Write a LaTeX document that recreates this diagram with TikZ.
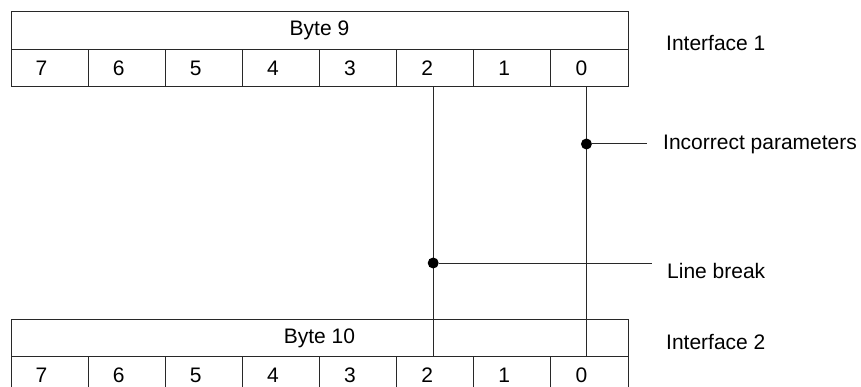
\documentclass[tikz,border=0pt]{standalone}
\usepackage{fontspec}
\setmainfont{Liberation Sans}
\usetikzlibrary{positioning}
\definecolor{WireGray}{RGB}{40,40,40}
\tikzset{
  bytebox/.style={draw=WireGray,line width=1pt,minimum width=617pt,
    minimum height=37.5pt,inner sep=0pt,outer sep=0pt},
  bitnum/.style={xshift=-8pt,inner sep=0pt},
  bitcell/.style={draw=WireGray,line width=1pt,minimum width=77.125pt,
    minimum height=37.5pt,inner sep=0pt,outer sep=0pt,
    label={[bitnum]center:#1}},
  note/.style={anchor=west,inner sep=0pt},
  tap/.style={circle,fill=black,minimum size=11pt,inner sep=0pt},
  wire/.style={draw=WireGray,line width=1pt}
}

\begin{document}
\begin{tikzpicture}[x=1pt,y=-1pt,node distance=0pt,
    every node/.append style={font=\fontsize{21}{25}\selectfont}]
  \useasboundingbox (0,0) rectangle (861,387);
  \clip (0,0) rectangle (861,387);
  % Interface 1
  \node[bytebox] (byte9) at (319.5,30.75) {Byte 9};
  \node[bitcell=7,anchor=north west] (t7) at (byte9.south west) {};
  \node[bitcell=6,right=of t7] (t6) {};
  \node[bitcell=5,right=of t6] (t5) {};
  \node[bitcell=4,right=of t5] (t4) {};
  \node[bitcell=3,right=of t4] (t3) {};
  \node[bitcell=2,right=of t3] (t2) {};
  \node[bitcell=1,right=of t2] (t1) {};
  \node[bitcell=0,right=of t1] (t0) {};
  \node[note] (if1) at (666,43) {Interface 1};
  % Interface 2
  \node[bytebox] (byte10) at (319.5,338) {Byte 10};
  \node[bitcell=7,anchor=north west] (u7) at (byte10.south west) {};
  \node[bitcell=6,right=of u7] (u6) {};
  \node[bitcell=5,right=of u6] (u5) {};
  \node[bitcell=4,right=of u5] (u4) {};
  \node[bitcell=3,right=of u4] (u3) {};
  \node[bitcell=2,right=of u3] (u2) {};
  \node[bitcell=1,right=of u2] (u1) {};
  \node[bitcell=0,right=of u1] (u0) {};
  \node[note] (if2) at (666,342) {Interface 2};
  % bit taps
  \draw[wire] ([xshift=-2pt]t2.south) -- ([xshift=-2pt]u2.north);
  \draw[wire] ([xshift=-3pt]t0.south) -- ([xshift=-3pt]u0.north);
  \node[tap] (errdot) at ([xshift=-3pt]t0 |- 0,144) {};
  \coordinate (errend) at (647,144);
  \draw[wire] (errdot) -- (errend);
  \node[note,right=16pt of errend] (errtext) {Incorrect parameters};
  \node[tap] (brkdot) at ([xshift=-2pt]t2 |- 0,263) {};
  \coordinate (brkend) at (652,263);
  \draw[wire] (brkdot) -- (brkend);
  \node[note] (brktext) at (667,271) {Line break};
\end{tikzpicture}
\end{document}
